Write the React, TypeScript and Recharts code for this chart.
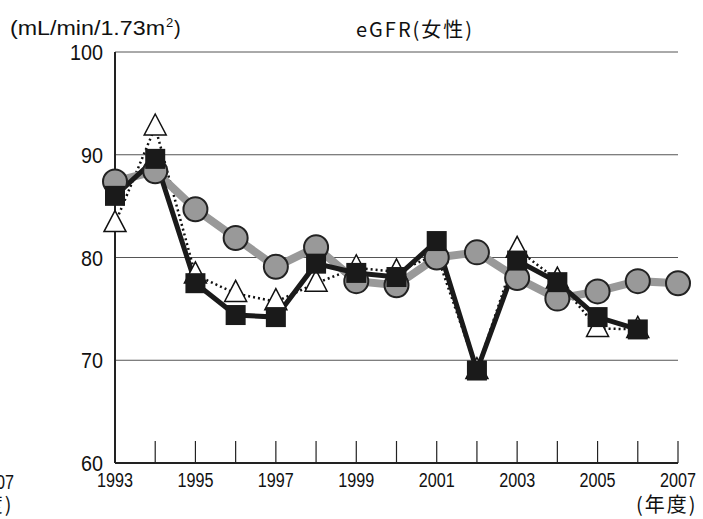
import { LineChart, Line, XAxis, YAxis, CartesianGrid } from 'recharts';

const years = [1993, 1994, 1995, 1996, 1997, 1998, 1999, 2000, 2001, 2002, 2003, 2004, 2005, 2006, 2007];
// grey line, circle markers
const circleSeries = [87.4, 88.4, 84.7, 81.9, 79.1, 81.0, 77.7, 77.3, 80.0, 80.5, 78.0, 76.0, 76.7, 77.7, 77.5];
// black line, square markers
const squareSeries = [86.0, 89.6, 77.5, 74.4, 74.2, 79.4, 78.5, 78.1, 81.6, 69.0, 79.7, 77.6, 74.2, 73.0, null];
// dotted line, open triangle markers
const triangleSeries = [83.3, 92.7, 78.3, 76.5, 75.7, 77.5, 79.0, 78.6, 80.3, 69.0, 80.8, 77.8, 73.1, 73.0, null];
const yTicks = [60, 70, 80, 90, 100];

const data = years.map((year, i) => ({
  year,
  circle: circleSeries[i],
  square: squareSeries[i],
  triangle: triangleSeries[i],
}));

const FONT = '"Liberation Sans", Arial, sans-serif';
const CJK = '"Noto Sans CJK JP", "Noto Sans", sans-serif';

const CircleDot = (props: any) => {
  const { cx, cy, value } = props;
  if (value == null) return null;
  return <circle cx={cx} cy={cy} r={12} fill="#999" stroke="#222" strokeWidth={2} />;
};

const SquareDot = (props: any) => {
  const { cx, cy, value } = props;
  if (value == null) return null;
  return <rect x={cx - 10} y={cy - 10} width={20} height={20} fill="#1a1a1a" />;
};

const TriangleDot = (props: any) => {
  const { cx, cy, value } = props;
  if (value == null) return null;
  return (
    <polygon
      points={`${cx},${cy - 13} ${cx - 11},${cy + 8} ${cx + 11},${cy + 8}`}
      fill="#fff"
      stroke="#111"
      strokeWidth={1.5}
    />
  );
};

// inward tick marks on every year, labels on odd years only
const YearTick = (props: any) => {
  const { x, y, payload } = props;
  const yr = payload.value;
  return (
    <g>
      {yr !== 1993 && <line x1={x} y1={y} x2={x} y2={y - 22} stroke="#222" strokeWidth={1.2} />}
      {(yr - 1993) % 2 === 0 && (
        <text
          x={x - 18}
          y={y + 24}
          fontSize={20}
          fontFamily={FONT}
          fill="#111"
          textLength={36}
          lengthAdjust="spacingAndGlyphs"
        >
          {yr}
        </text>
      )}
    </g>
  );
};

const ValueTick = (props: any) => {
  const { x, y, payload } = props;
  const s = String(payload.value);
  const w = s.length * 11;
  return (
    <text
      x={x - w}
      y={y + 8}
      fontSize={22}
      fontFamily={FONT}
      fill="#111"
      textLength={w}
      lengthAdjust="spacingAndGlyphs"
    >
      {s}
    </text>
  );
};

export default function App() {
  return (
    <div style={{ position: 'absolute', left: 0, top: 0, width: 703, height: 519, background: '#fff' }}>
      <LineChart
        width={703}
        height={519}
        data={data}
        margin={{ top: 52, right: 25, bottom: 26, left: 0 }}
      >
        <CartesianGrid vertical={false} stroke="#555" strokeWidth={1} />
        <XAxis
          dataKey="year"
          type="number"
          domain={[1993, 2007]}
          ticks={years}
          interval={0}
          height={30}
          tickSize={0}
          tickMargin={0}
          tickLine={false}
          tick={<YearTick />}
          axisLine={{ stroke: '#222', strokeWidth: 2 }}
        />
        <YAxis
          type="number"
          domain={[60, 100]}
          ticks={yTicks}
          width={115}
          tickLine={false}
          tickSize={0}
          tickMargin={12}
          axisLine={{ stroke: '#222', strokeWidth: 2 }}
          tick={<ValueTick />}
        />
        <Line
          dataKey="triangle"
          stroke="#111"
          strokeWidth={2.5}
          strokeDasharray="2 3"
          dot={<TriangleDot />}
          isAnimationActive={false}
        />
        <Line
          dataKey="circle"
          stroke="#999"
          strokeWidth={8}
          dot={<CircleDot />}
          isAnimationActive={false}
        />
        <Line
          dataKey="square"
          stroke="#1a1a1a"
          strokeWidth={5}
          dot={<SquareDot />}
          isAnimationActive={false}
        />
        <text x={10} y={35} fontSize={20} fontFamily={FONT} fill="#111" textLength={155} lengthAdjust="spacingAndGlyphs">
          (mL/min/1.73m
        </text>
        <text x={166} y={27} fontSize={13} fontFamily={FONT} fill="#111">
          2
        </text>
        <text x={174} y={35} fontSize={20} fontFamily={FONT} fill="#111">
          )
        </text>
        <text x={356} y={37} fontSize={20} fontFamily={CJK} fill="#111" letterSpacing={2}>
          eGFR(女性)
        </text>
        <text x={636} y={512} fontSize={20} fontFamily={CJK} fill="#111" letterSpacing={2}>
          (年度)
        </text>
        <text x={-22} y={489} fontSize={20} fontFamily={FONT} fill="#111" textLength={36} lengthAdjust="spacingAndGlyphs">
          2007
        </text>
        <text x={-48} y={512} fontSize={20} fontFamily={CJK} fill="#111" letterSpacing={2}>
          (年度)
        </text>
      </LineChart>
    </div>
  );
}
